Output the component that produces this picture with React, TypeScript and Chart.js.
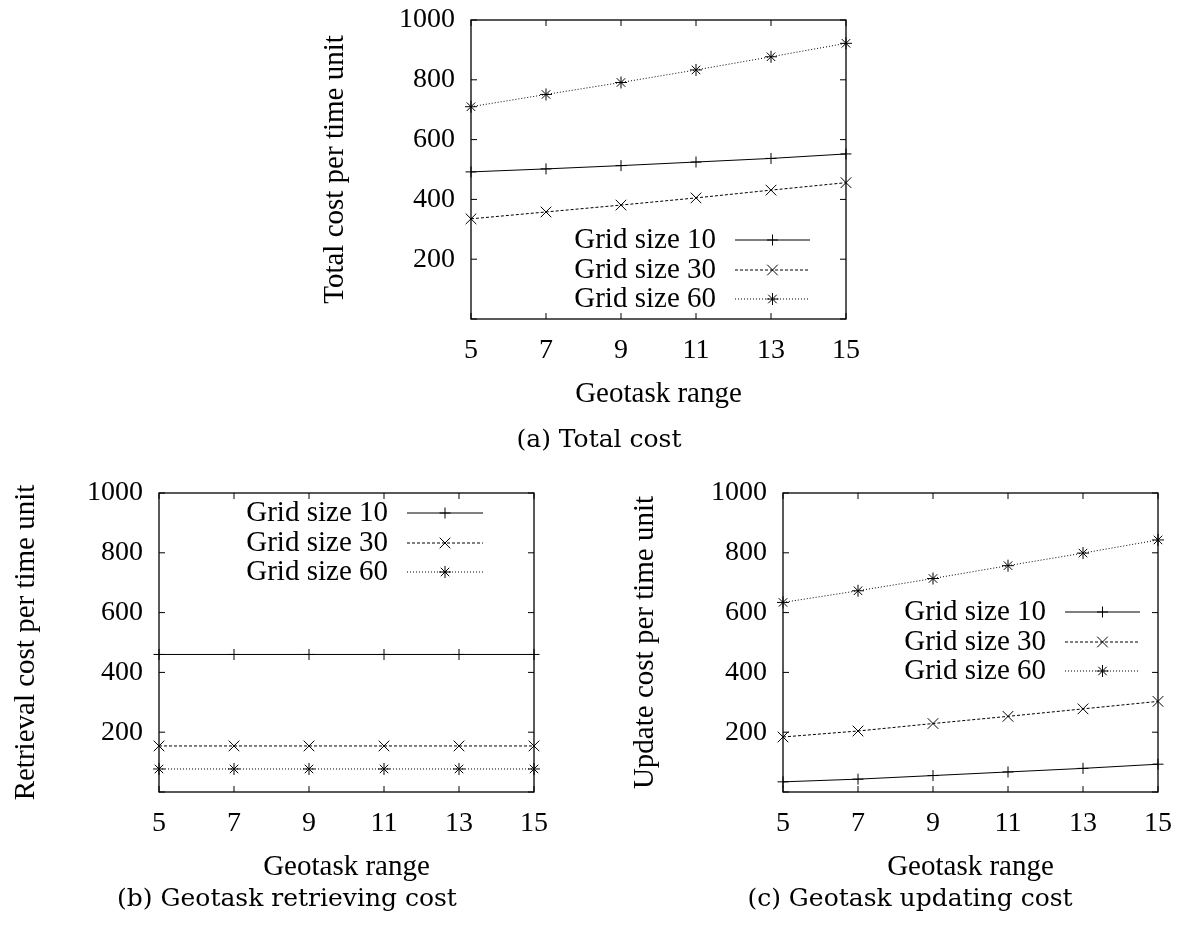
import React, { useEffect, useRef } from 'react';
import { Chart, registerables } from 'chart.js';
import { drawPoint } from 'chart.js/helpers';

Chart.register(...registerables);

// ---------- data ----------
const geotaskRange = [5, 7, 9, 11, 13, 15];
const seriesLabels = ['Grid size 10', 'Grid size 30', 'Grid size 60'];

const totalGrid10 = [492, 502, 513, 525, 537, 552];
const totalGrid30 = [335, 358, 381, 405, 431, 456];
const totalGrid60 = [710, 751, 791, 833, 877, 922];

const retrievalGrid10 = [460, 460, 460, 460, 460, 460];
const retrievalGrid30 = [154, 154, 154, 154, 154, 154];
const retrievalGrid60 = [77, 77, 77, 77, 77, 77];

const updateGrid10 = [34, 43, 55, 67, 79, 93];
const updateGrid30 = [184, 204, 229, 253, 278, 303];
const updateGrid60 = [634, 673, 714, 757, 799, 843];

const yMin = 0;
const yMax = 1000;
const yStep = 200;
const xMin = 5;
const xMax = 15;
const xStep = 2;

const xTitle = 'Geotask range';
const captions = ['(a) Total cost', '(b) Geotask retrieving cost', '(c) Geotask updating cost'];
const yTitles = ['Total cost per time unit', 'Retrieval cost per time unit', 'Update cost per time unit'];

// ---------- styles ----------
const FONT = '"Liberation Serif", "Times New Roman", serif';
const pointStyles = ['cross', 'crossRot', 'star'];
const pointRadii = [5.5, 7.5, 6];
const dashes: number[][] = [[], [3, 2], [1, 2]];

const framePlugin = {
  id: 'gnuFrame',
  afterDraw(chart: any, _args: any, opts: any) {
    const { ctx, chartArea: a, scales } = chart;
    ctx.save();
    ctx.strokeStyle = '#000';
    ctx.setLineDash([]);
    ctx.lineWidth = 1.3;
    ctx.strokeRect(a.left, a.top, a.right - a.left, a.bottom - a.top);
    const L = 6;
    ctx.lineWidth = 1;
    ctx.beginPath();
    scales.x.ticks.forEach((t: any) => {
      const px = scales.x.getPixelForValue(t.value);
      ctx.moveTo(px, a.bottom);
      ctx.lineTo(px, a.bottom - L);
      ctx.moveTo(px, a.top);
      ctx.lineTo(px, a.top + L);
    });
    scales.y.ticks.forEach((t: any) => {
      const py = scales.y.getPixelForValue(t.value);
      ctx.moveTo(a.left, py);
      ctx.lineTo(a.left + L, py);
      ctx.moveTo(a.right, py);
      ctx.lineTo(a.right - L, py);
    });
    ctx.stroke();

    // legend (text on the left, sample on the right, like gnuplot)
    ctx.font = `29px ${FONT}`;
    ctx.textAlign = 'right';
    ctx.textBaseline = 'middle';
    chart.data.datasets.forEach((ds: any, i: number) => {
      const y = a.top + opts.rows[i];
      ctx.fillStyle = '#000';
      ctx.fillText(ds.label, a.right - opts.textRight, y);
      const x0 = a.right - opts.lineStart;
      const x1 = a.right - opts.lineEnd;
      ctx.lineWidth = ds.borderWidth;
      ctx.setLineDash(ds.borderDash || []);
      ctx.beginPath();
      ctx.moveTo(x0, y);
      ctx.lineTo(x1, y);
      ctx.stroke();
      ctx.setLineDash([]);
      ctx.fillStyle = 'rgba(0,0,0,0)';
      ctx.lineWidth = ds.pointBorderWidth;
      drawPoint(ctx, { pointStyle: ds.pointStyle, radius: ds.pointRadius, borderWidth: ds.pointBorderWidth, rotation: 0 }, (x0 + x1) / 2, y);
    });
    ctx.restore();
  },
};

type Props = {
  left: number;
  top: number;
  width: number;
  height: number;
  pad: { left: number; right: number; top: number; bottom: number };
  yWidth: number;
  yTitle: string;
  series: number[][];
  legend: { rows: number[]; textRight: number; lineStart: number; lineEnd: number };
};

function GnuChart(p: Props) {
  const ref = useRef<HTMLCanvasElement | null>(null);
  useEffect(() => {
    if (!ref.current) return;
    const datasets = p.series.map((vals, i) => ({
      label: seriesLabels[i],
      data: geotaskRange.map((x, j) => ({ x, y: vals[j] })),
      borderColor: '#000',
      borderWidth: 1,
      borderDash: dashes[i],
      pointStyle: pointStyles[i],
      pointRadius: pointRadii[i],
      pointBorderColor: '#000',
      pointBackgroundColor: 'rgba(0,0,0,0)',
      pointBorderWidth: 1,
      tension: 0,
      fill: false,
      clip: false as any,
    }));
    const chart = new Chart(ref.current, {
      type: 'line',
      data: { datasets },
      plugins: [framePlugin],
      options: {
        animation: false,
        responsive: false,
        devicePixelRatio: 1,
        layout: { padding: p.pad },
        plugins: {
          legend: { display: false },
          tooltip: { enabled: false },
          gnuFrame: p.legend,
        } as any,
        scales: {
          x: {
            type: 'linear',
            min: xMin,
            max: xMax,
            ticks: {
              stepSize: xStep,
              font: { family: FONT, size: 28 },
              color: '#000',
              padding: 15,
              maxRotation: 0,
              autoSkip: false,
            },
            grid: { display: false, drawTicks: false },
            border: { display: false },
            title: { display: true, text: xTitle, font: { family: FONT, size: 29 }, color: '#000', padding: 0 },
            afterFit: (s: any) => {
              s.height = 93;
            },
          },
          y: {
            type: 'linear',
            min: yMin,
            max: yMax,
            ticks: {
              stepSize: yStep,
              font: { family: FONT, size: 28 },
              color: '#000',
              padding: 16,
              callback: (v: any) => (v === 0 ? '' : String(v)),
            },
            grid: { display: false, drawTicks: false },
            border: { display: false },
            title: { display: true, text: p.yTitle, font: { family: FONT, size: 29 }, color: '#000', padding: 0 },
            afterFit: (s: any) => {
              s.width = p.yWidth;
            },
          },
        },
      } as any,
    });
    return () => chart.destroy();
  }, []);
  return (
    <canvas
      ref={ref}
      width={p.width}
      height={p.height}
      style={{ position: 'absolute', left: p.left, top: p.top, width: p.width, height: p.height }}
    />
  );
}

const captionStyle = (cx: number, cy: number): React.CSSProperties => ({
  position: 'absolute',
  left: cx,
  top: cy,
  transform: 'translate(-50%, -50%)',
  fontFamily: '"DejaVu Serif", serif',
  fontSize: 25,
  lineHeight: 1,
  whiteSpace: 'nowrap',
  color: '#000',
});

export default function App() {
  return (
    <div style={{ position: 'absolute', left: 0, top: 0, width: 1187, height: 926, background: '#fff', overflow: 'hidden' }}>
      <GnuChart
        left={290}
        top={-20}
        width={600}
        height={445}
        pad={{ left: 28, right: 44, top: 40, bottom: 13 }}
        yWidth={153}
        yTitle={yTitles[0]}
        series={[totalGrid10, totalGrid30, totalGrid60]}
        legend={{ rows: [220, 250, 279], textRight: 130, lineStart: 111, lineEnd: 36 }}
      />
      <div style={captionStyle(599, 438)}>{captions[0]}</div>
      <GnuChart
        left={0}
        top={450}
        width={580}
        height={460}
        pad={{ left: 9, right: 46, top: 43, bottom: 25 }}
        yWidth={150}
        yTitle={yTitles[1]}
        series={[retrievalGrid10, retrievalGrid30, retrievalGrid60]}
        legend={{ rows: [20, 50, 79], textRight: 146, lineStart: 127, lineEnd: 51 }}
      />
      <div style={captionStyle(287, 897)}>{captions[1]}</div>
      <GnuChart
        left={600}
        top={450}
        width={587}
        height={460}
        pad={{ left: 28, right: 29, top: 43, bottom: 25 }}
        yWidth={155}
        yTitle={yTitles[2]}
        series={[updateGrid10, updateGrid30, updateGrid60]}
        legend={{ rows: [119, 149, 178], textRight: 112, lineStart: 93, lineEnd: 18 }}
      />
      <div style={captionStyle(910, 897)}>{captions[2]}</div>
    </div>
  );
}
